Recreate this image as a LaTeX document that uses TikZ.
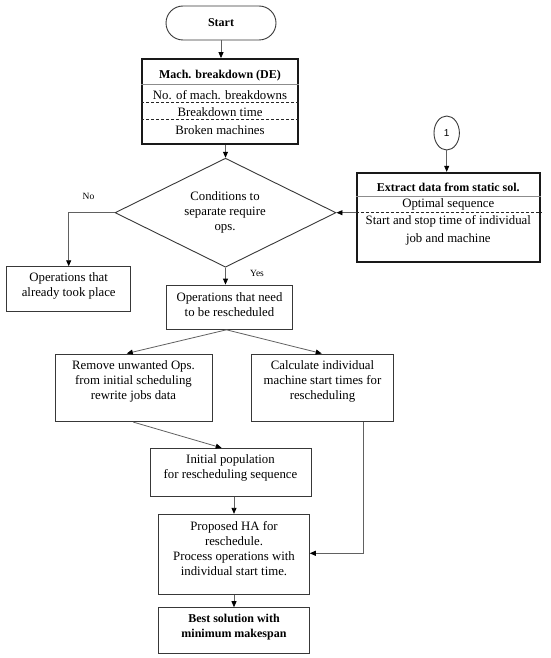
\documentclass[tikz,border=0pt]{standalone}
\usepackage{fontspec}
\setmainfont{Liberation Serif}
\newfontfamily\numfont{Liberation Sans}
\usetikzlibrary{arrows.meta,shapes.geometric}
\begin{document}
\begin{tikzpicture}[x=1pt,y=-1pt,
  box/.style={draw=black!78, line width=0.9pt, inner sep=0pt, rectangle},
  thickbox/.style={draw=black!90, line width=1.8pt, inner sep=0pt, rectangle},
  txt/.style={align=center, font=\fontsize{12.8}{15}\selectfont, inner sep=0pt},
  btxt/.style={align=center, font=\fontsize{12}{15}\selectfont\bfseries, inner sep=0pt},
  small/.style={font=\fontsize{9.5}{11}\selectfont, inner sep=0pt},
  conn/.style={draw=black!62, line width=0.8pt, -{Triangle[length=6pt,width=5pt,black]}},
  sepline/.style={draw=black!45, line width=1pt},
  dashline/.style={draw=black!85, line width=0.7pt, dash pattern=on 3pt off 2pt}
]
\fill[white] (0,0) rectangle (550,658);
\useasboundingbox (0,0) rectangle (550,658);

% Start
\node[box, minimum width=110pt, minimum height=34pt, rounded corners=17pt,
      font=\fontsize{12}{15}\selectfont\bfseries] (start) at (221,23) {Start};

% Machine breakdown box
\node[thickbox, minimum width=156pt, minimum height=85pt] (mach) at (220,101.5) {};
\draw[sepline] (mach.west |- 0,85) -- (mach.east |- 0,85);
\draw[dashline] (mach.west |- 0,102) -- (mach.east |- 0,102);
\draw[dashline] (mach.west |- 0,119) -- (mach.east |- 0,119);
\node[btxt] (machT) at (220,75.5) {Mach. breakdown (DE)};
\node[txt] (machA) at (220,95) {No. of mach. breakdowns};
\node[txt] (machB) at (220,112) {Breakdown time};
\node[txt] (machC) at (220,129.7) {Broken machines};

% Decision
\node[diamond, draw=black!78, line width=0.9pt, minimum width=221pt, minimum height=109pt,
      inner sep=0pt, aspect=2] (dia) at (225.5,212.7) {};
\node[txt] (diaT) at (225,212.7) {Conditions to\\separate require\\ops.};

% Connector 1
\node[ellipse, draw=black!78, line width=0.9pt, minimum width=25.4pt, minimum height=34pt,
      inner sep=0pt, font=\numfont\fontsize{10}{12}\selectfont] (circ) at (446.7,133) {1};

% Extract box
\node[thickbox, minimum width=183.3pt, minimum height=89pt] (ext) at (448.3,217.2) {};
\draw[sepline] (ext.west |- 0,196) -- (ext.east |- 0,196);
\draw[dashline] (ext.west |- 0,212.7) -- (ext.east |- 0,212.7);
\node[btxt] (extT) at (448.3,187.3) {Extract data from static sol.};
\node[txt] (extA) at (448.3,204.5) {Optimal sequence};
\node[txt] (extB) at (448.3,221.7) {Start and stop time of individual};
\node[txt] (extC) at (448.3,239.5) {job and machine};

% Operations boxes
\node[box, minimum width=124pt, minimum height=45pt] (opsA) at (68.7,289.2) {};
\node[txt] (opsAT) at (68.7,286) {Operations that\\already took place};

\node[box, minimum width=125.6pt, minimum height=44.3pt] (opsN) at (229.5,307.2) {};
\node[txt] (opsNT) at (229.5,304.2) {Operations that need\\to be rescheduled};

\node[small] (no) at (88.5,196) {No};
\node[small] (yes) at (257,273.3) {Yes};

\node[box, minimum width=157.7pt, minimum height=67.7pt] (rem) at (133.8,387.8) {};
\node[txt] (remT) at (133.5,381.7) {Remove unwanted Ops.\\from initial scheduling\\rewrite jobs data};

\node[box, minimum width=141.6pt, minimum height=67.7pt] (calc) at (322.5,387.8) {};
\node[txt] (calcT) at (322.5,381.7) {Calculate individual\\machine start times for\\rescheduling};

\node[box, minimum width=161pt, minimum height=47.7pt] (init) at (230.5,472.2) {};
\node[txt] (initT) at (230.5,468) {Initial population\\for rescheduling sequence};

\node[box, minimum width=150.6pt, minimum height=80pt] (prop) at (234,554.3) {};
\node[txt] (propT) at (234,548.7) {Proposed HA for\\reschedule.\\Process operations with\\individual start time.};

\node[box, minimum width=150.6pt, minimum height=45.7pt] (best) at (234,630.5) {};
\node[btxt] (bestT) at (234,626.8) {Best solution with\\minimum makespan};

% Connectors
\draw[conn] (start.south) -- (start.south |- mach.north);
\draw[conn] (mach.south -| dia.north) -- (dia.north);
\draw[conn] (dia.west) -- (dia.west -| opsA.north) -- (opsA.north);
\draw[conn] (dia.south) -- (dia.south |- opsN.north);
\draw[conn] (circ.south) -- (circ.south |- ext.north);
\draw[conn] (dia.east -| ext.west) -- (dia.east);
\draw[conn] ([xshift=-3pt]opsN.south) -- ([xshift=-7pt]rem.north);
\draw[conn] ([xshift=-3pt]opsN.south) -- ([xshift=-0.8pt]calc.north);
\draw[conn] ([xshift=-0.5pt]rem.south) -- ([xshift=-8.8pt]init.north);
\draw[conn] (prop.north |- init.south) -- (prop.north);
\draw[conn] ([xshift=40.8pt]calc.south) |- ([yshift=1pt]prop.east);
\draw[conn] (prop.south) -- (best.north);
\end{tikzpicture}
\end{document}
